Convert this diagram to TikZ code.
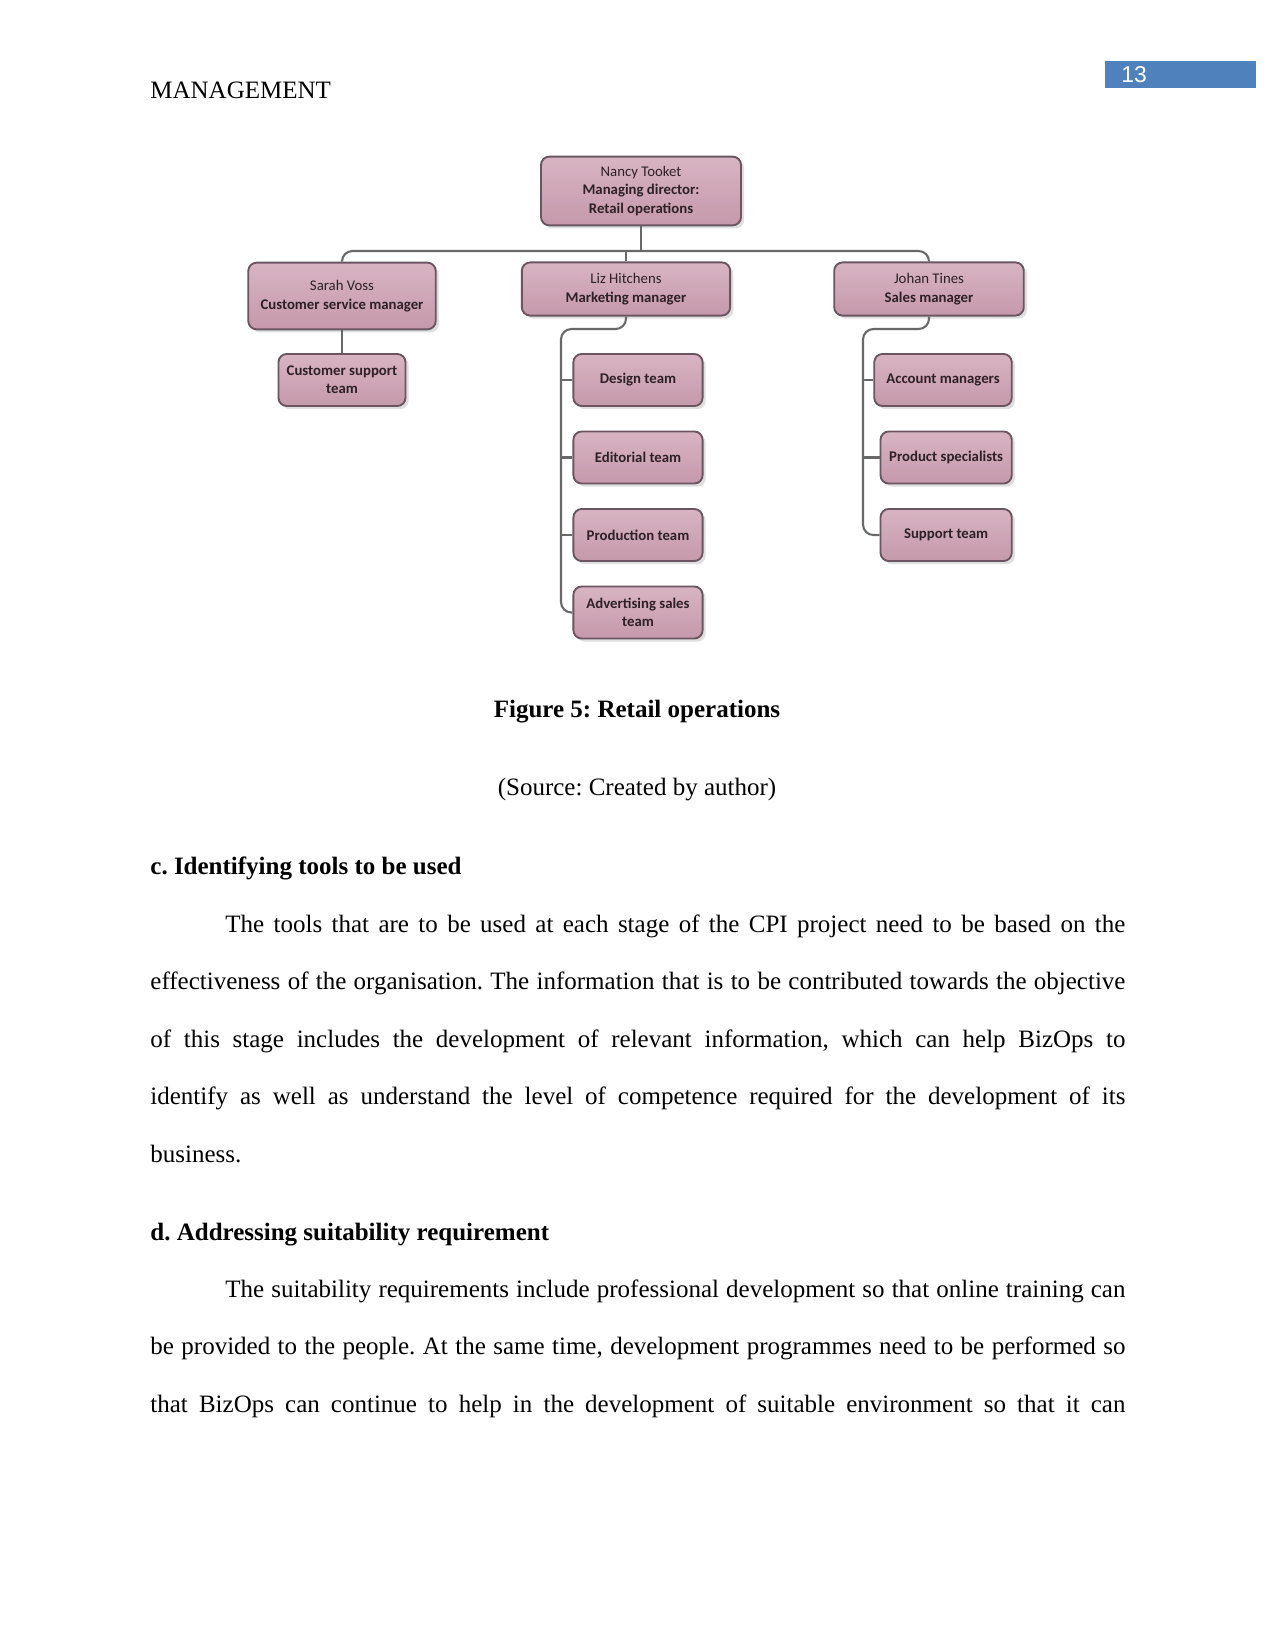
\documentclass[tikz,border=0pt]{standalone}
\usepackage{fontspec}
\setmainfont{Liberation Serif}
\newfontfamily\boxfont{Carlito}
\newfontfamily\numfont{Liberation Sans}
\usetikzlibrary{positioning, shadows, calc}
\definecolor{boxtop}{HTML}{D8B4C3}
\definecolor{boxbot}{HTML}{C599AB}
\definecolor{boxline}{HTML}{6A5560}
\definecolor{boxtext}{HTML}{2E2026}
\definecolor{linkgray}{HTML}{686868}
\definecolor{pageblue}{HTML}{4F81BD}
\frenchspacing

\begin{document}
\begin{tikzpicture}[x=0.48pt, y=-0.48pt,
    card/.style={draw=boxline, line width=0.9pt, top color=boxtop, bottom color=boxbot, rounded corners=4pt,
      text=boxtext, font=\boxfont\fontsize{7.1}{8.8}\selectfont, align=center, inner sep=1pt,
      drop shadow={opacity=0.25, shadow xshift=1.5pt, shadow yshift=-1.5pt}},
    mgr/.style={card, minimum height=25.5pt},
    team/.style={card, font=\boxfont\bfseries\fontsize{7.1}{8.8}\selectfont, minimum width=62pt, minimum height=25pt},
    link/.style={draw=linkgray, line width=1pt, rounded corners=5pt},
    body/.style={anchor=base west, inner sep=0pt, text width=468pt, align=justify, font=\fontsize{12}{27.6}\selectfont},
    head/.style={anchor=base west, inner sep=0pt, font=\bfseries\fontsize{12}{14}\selectfont}]
  \useasboundingbox[fill=white] (0,0) rectangle (1275,1651);

  % page header
  \node[anchor=base west, inner sep=0pt, font=\fontsize{12}{14}\selectfont] (hdr) at (150,99) {MANAGEMENT};
  \fill[pageblue] (1105,61) rectangle (1256,88);
  \node[anchor=west, inner sep=0pt, text=white, font=\numfont\fontsize{11}{13}\selectfont] (pnum) at (1121,75) {13};

  % chart
  \node[mgr, minimum width=96pt, minimum height=33pt] (nancy) at (641,191) {Nancy Tooket\\\textbf{Managing director:}\\\textbf{Retail operations}};
  \node[mgr, minimum width=90pt, minimum height=32pt] (sarah) at (342,296) {Sarah Voss\\\textbf{Customer service manager}};
  \node[mgr, minimum width=100pt] (liz) at (626,289) {Liz Hitchens\\\textbf{Marketing manager}};
  \node[mgr, minimum width=91pt] (johan) at (929,289) {Johan Tines\\\textbf{Sales manager}};

  \node[team, minimum width=61pt] (csup) at (342,380) {Customer support\\team};

  \node[team] (design) at (638,380) {Design team};
  \node[team, below=11.3pt of design] (edit) {Editorial team};
  \node[team, below=11.3pt of edit] (prod) {Production team};
  \node[team, below=11.3pt of prod] (adv) {Advertising sales\\team};

  \node[team, minimum width=66pt] (acct) at (943,380) {Account managers};
  \node[team, minimum width=63pt, below=11.3pt of acct.south east, anchor=north east] (spec) {Product specialists};
  \node[team, minimum width=63pt, below=11.3pt of spec.south east, anchor=north east] (supp) {Support team};

  \coordinate (bus) at (641,251);
  \coordinate (mkt) at (561,329);
  \coordinate (sls) at (863,329);

  \draw[link] (nancy.south) -- (bus);
  \draw[link] (sarah.north) |- (bus) -| (johan.north);
  \draw[link] (liz.north) -- (liz.north |- bus);
  \draw[link] (sarah.south) -- (csup.north);

  \draw[link] (liz.south) -- (liz.south |- mkt) -- (mkt) -- (mkt |- adv.west) -- (adv.west);
  \foreach \t in {design, edit, prod}
    \draw[link] (mkt |- \t.west) -- (\t.west);

  \draw[link] (johan.south) -- (johan.south |- sls) -- (sls) -- (sls |- supp.west) -- (supp.west);
  \foreach \t in {acct, spec}
    \draw[link] (sls |- \t.west) -- (\t.west);

  % caption
  \node[anchor=base, inner sep=0pt, font=\bfseries\fontsize{12}{14}\selectfont] (cap) at (637,717) {Figure 5: Retail operations};
  \node[anchor=base, inner sep=0pt, font=\fontsize{12}{14}\selectfont] (src) at (637,795) {(Source: Created by author)};

  % text
  \node[head] (hc) at (150,874) {c. Identifying tools to be used};
  \node[body] (pc) at (150,932) {\hspace*{36pt}The tools that are to be used at each stage of the CPI project need to be based on the\linebreak
    effectiveness of the organisation. The information that is to be contributed towards the objective\linebreak
    of this stage includes the development of relevant information, which can help BizOps to\linebreak
    identify as well as understand the level of competence required for the development of its\linebreak
    business.};

  \node[head] (hd) at (150,1240) {d. Addressing suitability requirement};
  \node[body] (pd) at (150,1297) {\parfillskip=0pt\hspace*{36pt}The suitability requirements include professional development so that online training can\linebreak
    be provided to the people. At the same time, development programmes need to be performed so\linebreak
    that BizOps can continue to help in the development of suitable environment so that it can\par};
\end{tikzpicture}
\end{document}
